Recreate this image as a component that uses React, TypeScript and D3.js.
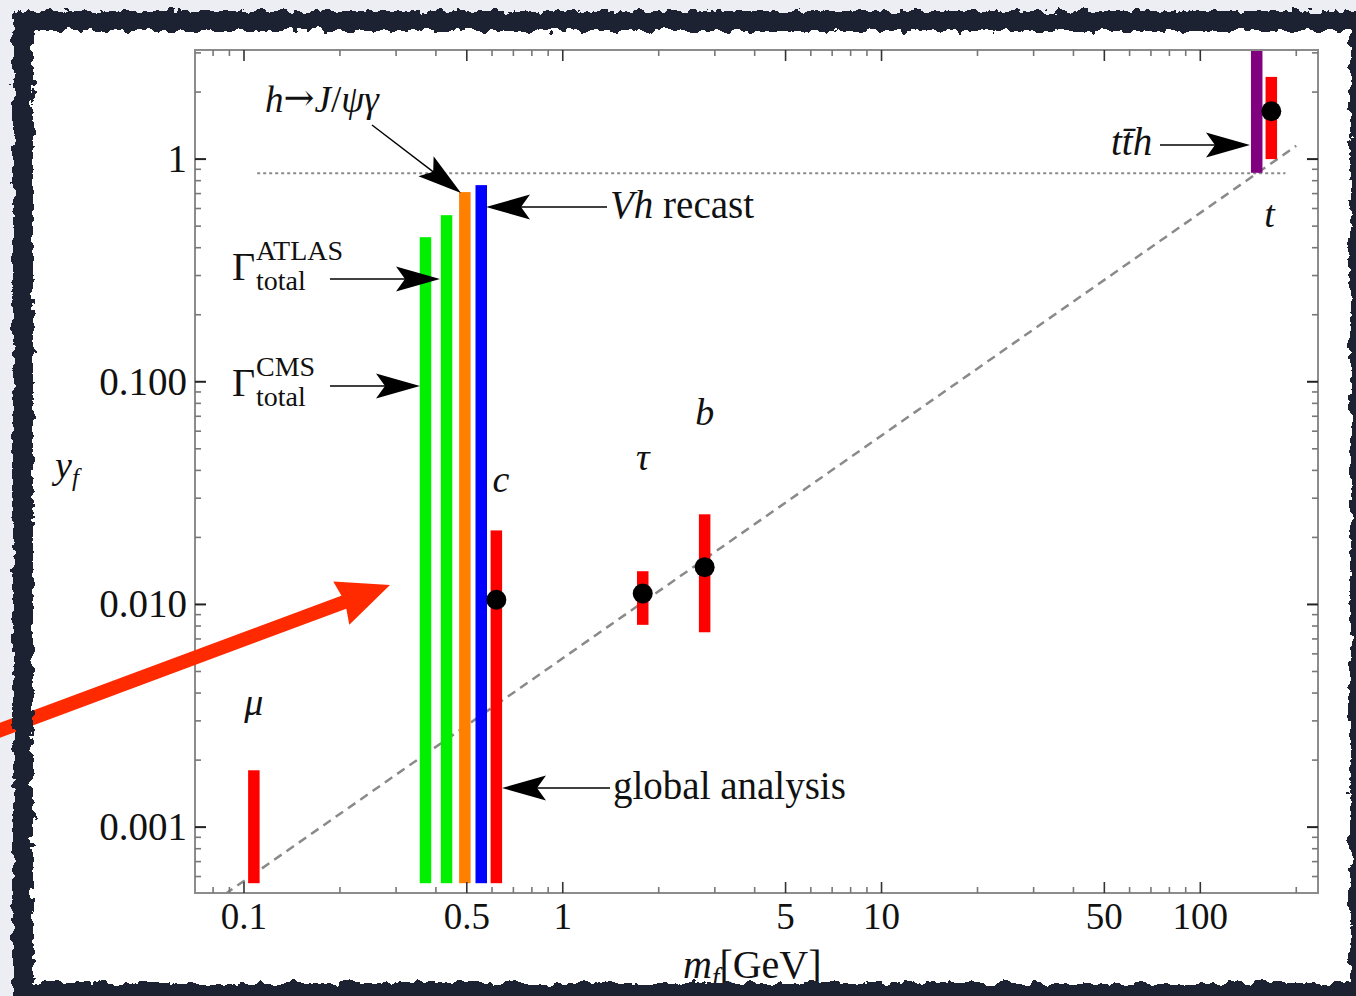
import React from 'react';
import * as d3 from 'd3';

const W = 1356;
const H = 996;

// axis domains (log-log)
const xDomain = [0.0702, 234];
const yDomain = [0.000506, 3.09];

// tick labels
const xTickValues = [0.1, 0.5, 1, 5, 10, 50, 100];
const xTickText = ['0.1', '0.5', '1', '5', '10', '50', '100'];
const yTickValues = [0.001, 0.01, 0.1, 1];
const yTickText = ['0.001', '0.010', '0.100', '1'];

// vertical bands (allowed / excluded ranges of the Yukawa coupling)
const barNames = ['mu', 'CMS width', 'ATLAS width', 'h->J/psi gamma', 'Vh recast', 'c global', 'tau', 'b', 'tth', 't'];
const barMass = [0.1074, 0.371, 0.432, 0.493, 0.555, 0.619, 1.782, 2.787, 150.3, 167];
const barLow = [0.00056, 0.00056, 0.00056, 0.00056, 0.00056, 0.00056, 0.0081, 0.0075, 0.868, 1.0];
const barHigh = [0.0018, 0.446, 0.56, 0.711, 0.764, 0.0215, 0.0141, 0.0254, 5, 2.34];
const barColor = ['#ff0000', '#00f000', '#00f000', '#ff8000', '#0000ff', '#ff0000', '#ff0000', '#ff0000', '#800080', '#ff0000'];

// Standard Model points
const pointMass = [0.619, 1.782, 2.787, 167];
const pointY = [0.0105, 0.0112, 0.0147, 1.64];

// SM line y_f = sqrt2 m_f / v (read endpoints)
const smLineMass = [0.0872, 200];
const smLineY = [0.0005, 1.147];

// dotted horizontal line
const hLineMass = [0.11, 185];
const hLineY = [0.865, 0.865];

// particle labels
const labelText = ['\u03bc', 'c', '\u03c4', 'b', 't'];
const labelMass = [0.1074, 0.64, 1.782, 2.787, 165];
const labelY = [0.00318, 0.032, 0.04, 0.0637, 0.495];

const FONT = '"Liberation Serif", "Times New Roman", serif';

function arrowHead(tip: [number, number], from: [number, number], len = 44, half = 12.5, notch = 9) {
  const dx = tip[0] - from[0];
  const dy = tip[1] - from[1];
  const L = Math.hypot(dx, dy);
  const ux = dx / L, uy = dy / L;
  const px = -uy, py = ux;
  const bx = tip[0] - len * ux, by = tip[1] - len * uy;
  const nx = tip[0] - (len - notch) * ux, ny = tip[1] - (len - notch) * uy;
  return `M${tip[0]},${tip[1]} L${bx + half * px},${by + half * py} L${nx},${ny} L${bx - half * px},${by - half * py} Z`;
}

function Arrow({ from, tip, color = '#000', width = 1.4, len = 44, half = 12.5 }: any) {
  const dx = tip[0] - from[0];
  const dy = tip[1] - from[1];
  const L = Math.hypot(dx, dy);
  const endX = tip[0] - (dx / L) * (len - 12);
  const endY = tip[1] - (dy / L) * (len - 12);
  return (
    <g>
      <line x1={from[0]} y1={from[1]} x2={endX} y2={endY} stroke={color} strokeWidth={width} />
      <path d={arrowHead(tip, from, len, half)} fill={color} />
    </g>
  );
}

export default function App() {
  const left = 195, right = 1318, top = 50, bottom = 893;
  const x = d3.scaleLog().domain(xDomain).range([left, right]);
  const y = d3.scaleLog().domain(yDomain).range([bottom, top]);

  const minorX: number[] = [];
  for (let e = -2; e <= 3; e++) {
    for (let k = 1; k <= 9; k++) {
      const v = k * Math.pow(10, e);
      if (v >= xDomain[0] && v <= xDomain[1]) minorX.push(v);
    }
  }
  const minorY: number[] = [];
  for (let e = -4; e <= 1; e++) {
    for (let k = 1; k <= 9; k++) {
      const v = k * Math.pow(10, e);
      if (v >= yDomain[0] && v <= yDomain[1]) minorY.push(v);
    }
  }
  const isMajorX = (v: number) => xTickValues.some((t) => Math.abs(t - v) / t < 1e-6);
  const isMajorY = (v: number) => yTickValues.some((t) => Math.abs(t - v) / t < 1e-6);

  const line = d3.line<number>().x((d, i) => x(smLineMass[i])).y((d, i) => y(smLineY[i]));
  const hline = d3.line<number>().x((d, i) => x(hLineMass[i])).y((d, i) => y(hLineY[i]));

  const barW = 11.5;

  const redTip: [number, number] = [390, 585];
  const redFrom: [number, number] = [-10, 734];

  return (
    <svg width={W} height={H} style={{ position: 'absolute', left: 0, top: 0, display: 'block' }} fontFamily={FONT}>
      <defs>
        <clipPath id="plotClip">
          <rect x={left} y={top} width={right - left} height={bottom - top} />
        </clipPath>
        <filter id="rough" x="-2%" y="-2%" width="104%" height="104%">
          <feTurbulence type="fractalNoise" baseFrequency="0.09" numOctaves="3" seed="4" result="n" />
          <feDisplacementMap in="SourceGraphic" in2="n" scale="12" xChannelSelector="R" yChannelSelector="G" />
        </filter>
      </defs>
      <rect x={0} y={0} width={W} height={H} fill="#eceef3" />
      <rect x={24} y={22} width={1340} height={975} fill="#ffffff" />

      {/* plot contents */}
      <g clipPath="url(#plotClip)">
        <path d={hline([0, 1]) || ''} stroke="#8a8a8a" strokeWidth={2} strokeDasharray="3,3" fill="none" />
        <path d={line([0, 1]) || ''} stroke="#8a8a8a" strokeWidth={2.5} strokeDasharray="9,6" fill="none" />
        {barMass.map((m, i) => (
          <rect key={barNames[i]} x={x(m) - barW / 2} y={y(barHigh[i])} width={barW} height={y(barLow[i]) - y(barHigh[i])} fill={barColor[i]} />
        ))}
        {pointMass.map((m, i) => (
          <circle key={i} cx={x(m)} cy={y(pointY[i])} r={10} fill="#000" />
        ))}
      </g>

      {/* frame */}
      <rect x={left} y={top} width={right - left} height={bottom - top} fill="none" stroke="#8c8c8c" strokeWidth={2} />

      {/* ticks */}
      {minorX.map((v) => {
        const maj = isMajorX(v);
        const len = maj ? 11 : 6;
        const col = maj ? '#333' : '#777';
        return (
          <g key={'xt' + v}>
            <line x1={x(v)} x2={x(v)} y1={bottom} y2={bottom - len} stroke={col} strokeWidth={1.6} />
            <line x1={x(v)} x2={x(v)} y1={top} y2={top + len} stroke={col} strokeWidth={1.6} />
          </g>
        );
      })}
      {minorY.map((v) => {
        const maj = isMajorY(v);
        const len = maj ? 11 : 6;
        const col = maj ? '#222' : '#777';
        return (
          <g key={'yt' + v}>
            <line x1={left} x2={left + len} y1={y(v)} y2={y(v)} stroke={col} strokeWidth={maj ? 2 : 1.6} />
            <line x1={right} x2={right - len} y1={y(v)} y2={y(v)} stroke={col} strokeWidth={maj ? 2 : 1.6} />
          </g>
        );
      })}

      {/* tick labels */}
      {xTickValues.map((v, i) => (
        <text key={'xl' + v} x={x(v)} y={929} fontSize={37} textAnchor="middle" fill="#111">{xTickText[i]}</text>
      ))}
      {yTickValues.map((v, i) => (
        <text key={'yl' + v} x={187} y={y(v) + 13} fontSize={39} textAnchor="end" fill="#111">{yTickText[i]}</text>
      ))}

      {/* axis titles */}
      <text x={55} y={478} fontSize={38} fill="#111">
        <tspan fontStyle="italic">y</tspan>
        <tspan fontStyle="italic" fontSize={25} dy={8}>f</tspan>
      </text>
      <text x={683} y={978} fontSize={40} fill="#111">
        <tspan fontStyle="italic">m</tspan>
        <tspan fontStyle="italic" fontSize={27} dy={8}>f</tspan>
        <tspan dy={-8}>[GeV]</tspan>
      </text>

      {/* particle labels */}
      {labelText.map((t, i) => (
        <text key={'lab' + i} x={x(labelMass[i])} y={y(labelY[i])} fontSize={38} fontStyle="italic" textAnchor="middle" fill="#111">{t}</text>
      ))}

      {/* annotations */}
      <text x={265} y={112} fontSize={37} fill="#111">
        <tspan fontStyle="italic">h</tspan>
        <tspan fontFamily='"DejaVu Serif", serif' fontSize={37} dy={-2}>{'\u2192'}</tspan>
        <tspan fontStyle="italic" dy={2}>J</tspan>
        <tspan>/</tspan>
        <tspan fontStyle="italic">{'\u03c8\u03b3'}</tspan>
      </text>
      <Arrow from={[372, 125]} tip={[461, 193]} />

      <text x={610} y={218} fontSize={39} fill="#111">
        <tspan fontStyle="italic">Vh</tspan>
        <tspan> recast</tspan>
      </text>
      <Arrow from={[607, 207]} tip={[486, 207]} />

      <text x={232} y={280} fontSize={40} fill="#111">{'\u0393'}</text>
      <text x={256} y={260} fontSize={28} fill="#111">ATLAS</text>
      <text x={256} y={290} fontSize={28} fill="#111">total</text>
      <Arrow from={[330, 279]} tip={[440, 279]} />

      <text x={232} y={396} fontSize={40} fill="#111">{'\u0393'}</text>
      <text x={256} y={376} fontSize={28} fill="#111">CMS</text>
      <text x={256} y={406} fontSize={28} fill="#111">total</text>
      <Arrow from={[330, 386]} tip={[420, 386]} />

      <text x={613} y={799} fontSize={39} fill="#111">global analysis</text>
      <Arrow from={[610, 788]} tip={[502, 788]} />

      <text x={1111} y={155} fontSize={39} fontStyle="italic" fill="#111">{'tt\u0304h'}</text>
      <Arrow from={[1160, 145]} tip={[1250, 145]} />

      {/* red markup arrow */}
      <g>
        <line x1={redFrom[0]} y1={redFrom[1]} x2={redTip[0] - 0.9375 * 40} y2={redTip[1] + 0.3486 * 40} stroke="#ff2a00" strokeWidth={14} />
        <path d={arrowHead(redTip, redFrom, 52, 23, 4)} fill="#ff2a00" />
      </g>

      {/* rough screenshot border */}
      <rect x={23} y={21} width={1337} height={972} fill="none" stroke="#1f2430" strokeWidth={20} filter="url(#rough)" />
    </svg>
  );
}
